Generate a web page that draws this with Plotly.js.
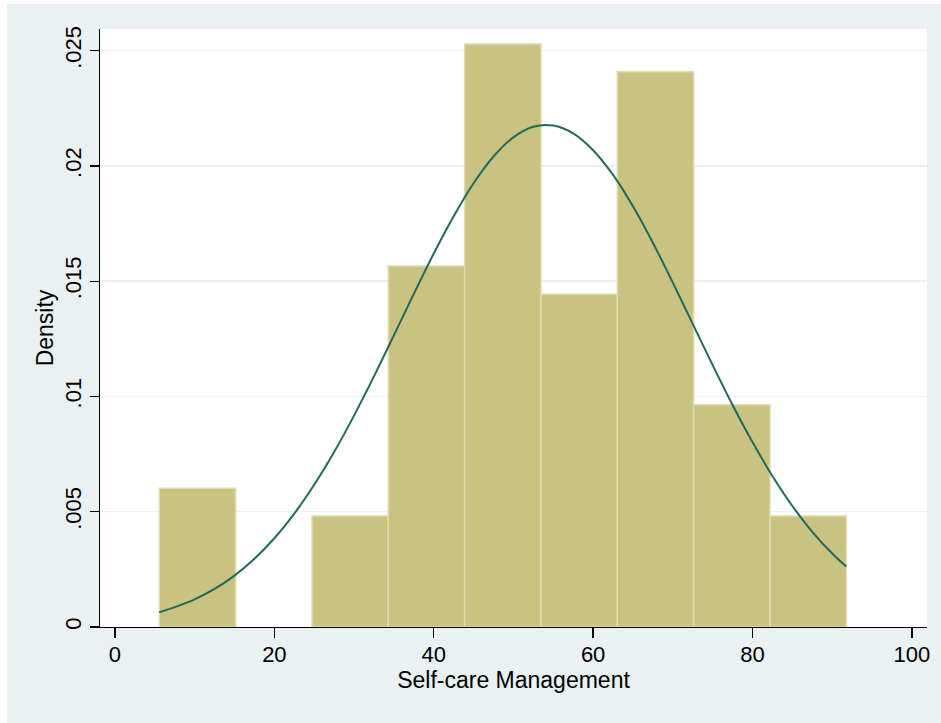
<!DOCTYPE html>
<html>
<head>
<meta charset="utf-8">
<script src="https://cdn.plot.ly/plotly-3.0.1.min.js"></script>
<style>
  html, body { margin: 0; padding: 0; background: #ffffff; width: 941px; height: 723px; overflow: hidden; }
  #chart { position: absolute; left: 7px; top: 4px; width: 934px; height: 719px; }
</style>
</head>
<body>
<div id="chart"></div>
<script>
// Histogram bins (Self-care Management) and their densities
const binStart = [5.56, 15.14, 24.72, 34.30, 43.88, 53.46, 63.04, 72.62, 82.20];
const binEnd   = [15.14, 24.72, 34.30, 43.88, 53.46, 63.04, 72.62, 82.20, 91.78];
const density  = [0.00602, 0, 0.00482, 0.01566, 0.02529, 0.01445, 0.02409, 0.00964, 0.00482];

// Normal density overlay
const curveX = [5.56, 7.5, 10, 12.5, 15, 17.5, 20, 22.5, 25, 27.5, 30, 32.5, 35, 37.5, 40, 42.5, 45, 47.5, 50,
                52.5, 55, 57.5, 60, 62.5, 65, 67.5, 70, 72.5, 75, 77.5, 80, 82.5, 85, 87.5, 90, 91.78];
const curveY = [0.00064, 0.00086, 0.00120, 0.00165, 0.00223, 0.00296, 0.00385, 0.00492, 0.00617, 0.00759,
                0.00917, 0.01087, 0.01265, 0.01445, 0.01620, 0.01782, 0.01925, 0.02041, 0.02124,
                0.02170, 0.02175, 0.02141, 0.02068, 0.01961, 0.01825, 0.01667, 0.01494, 0.01315,
                0.01136, 0.00963, 0.00802, 0.00655, 0.00525, 0.00413, 0.00319, 0.00262];

// Axis ticks
const xTickVals = [0, 20, 40, 60, 80, 100];
const yTickVals = [0, 0.005, 0.01, 0.015, 0.02, 0.025];
const yTickText = ["0", ".005", ".01", ".015", ".02", ".025"];

const barX = binStart.map((s, i) => (s + binEnd[i]) / 2);
const barW = binStart.map((s, i) => binEnd[i] - s);
const barLineW = density.map(d => (d > 0 ? 1.5 : 0));

const font = 'Liberation Sans, Arial, Helvetica, sans-serif';

const traces = [
  {
    type: 'bar',
    x: barX,
    y: density,
    width: barW,
    marker: { color: '#cac280', line: { color: '#e0dcac', width: barLineW } },
    hoverinfo: 'x+y',
    showlegend: false
  },
  {
    type: 'scatter',
    mode: 'lines',
    x: curveX,
    y: curveY,
    line: { color: '#21685f', width: 2, shape: 'spline', smoothing: 0.8 },
    showlegend: false
  }
];

const layout = {
  width: 934,
  height: 719,
  margin: { l: 93, r: 14, t: 25, b: 96 },
  paper_bgcolor: '#e9f1f3',
  plot_bgcolor: '#ffffff',
  bargap: 0,
  font: { family: font, color: '#000000', size: 22 },
  xaxis: {
    range: [-1.88, 101.9],
    tickvals: xTickVals,
    ticks: 'outside',
    ticklen: 10,
    tickwidth: 1.3,
    tickcolor: '#000000',
    showline: true,
    linecolor: '#000000',
    linewidth: 1.3,
    showgrid: false,
    zeroline: false,
    tickfont: { size: 22, family: font },
    ticklabelstandoff: -3,
    title: { text: 'Self-care Management', font: { size: 23, family: font }, standoff: 4 }
  },
  yaxis: {
    range: [0, 0.02594],
    tickvals: yTickVals,
    ticktext: yTickText,
    tickangle: -90,
    ticks: 'outside',
    ticklen: 9,
    tickwidth: 1.3,
    tickcolor: '#000000',
    showline: true,
    linecolor: '#000000',
    linewidth: 1.3,
    showgrid: true,
    gridcolor: '#eaf0f3',
    gridwidth: 1.5,
    zeroline: false,
    tickfont: { size: 22, family: font },
    ticklabelstandoff: 0,
    title: { text: 'Density', font: { size: 23, family: font }, standoff: 1 }
  }
};

Plotly.newPlot('chart', traces, layout, { displayModeBar: false, staticPlot: true });
</script>
</body>
</html>
